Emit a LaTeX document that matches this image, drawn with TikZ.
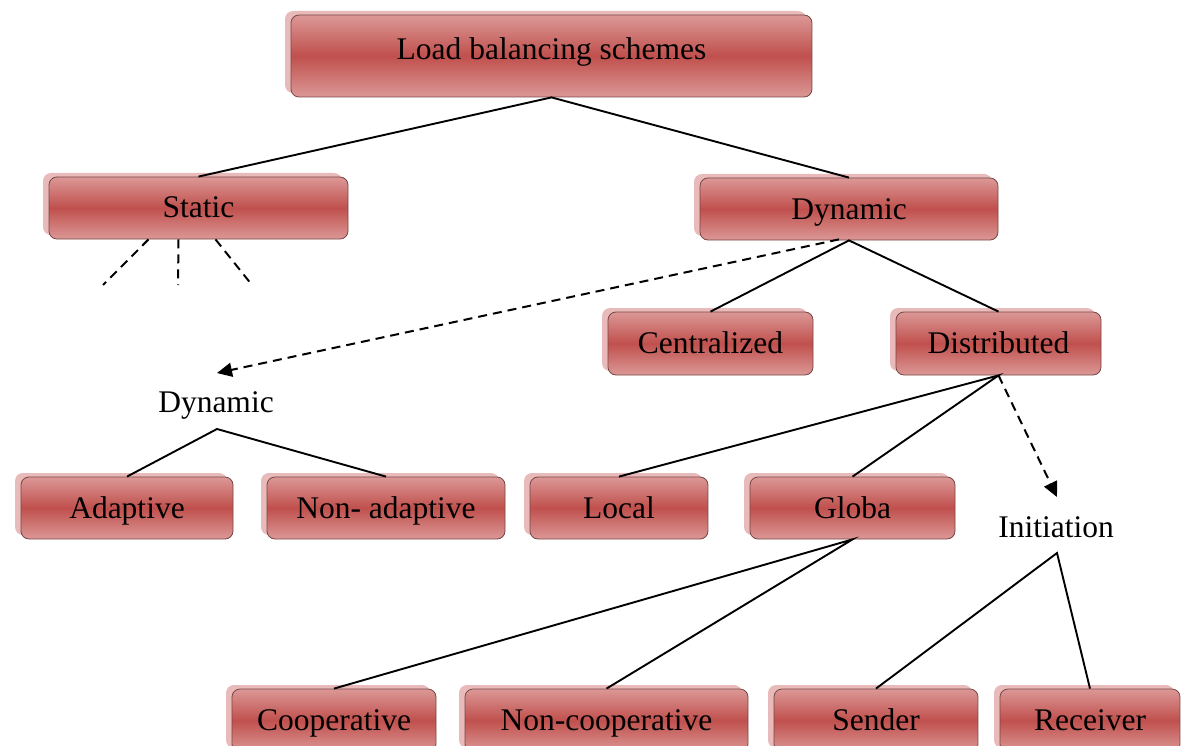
\documentclass[tikz,border=0pt]{standalone}
\usepackage{fontspec}
\setmainfont{Liberation Serif}
\usetikzlibrary{arrows.meta,shadows}

\definecolor{boxlight}{RGB}{219,152,150}
\definecolor{boxmid}{RGB}{192,80,77}
\definecolor{boxback}{RGB}{232,186,185}
\definecolor{boxedge}{RGB}{120,70,70}

\tikzset{
  schemebox/.style={rectangle, rounded corners=8pt, draw=boxedge, line width=0.8pt,
    top color=boxlight, bottom color=boxlight, middle color=boxmid,
    copy shadow={shadow xshift=-6pt, shadow yshift=4pt, fill=boxback, draw=none},
    minimum height=62pt, inner sep=0pt,
    font=\fontsize{31.5}{36}\selectfont, text height=24pt, text depth=4pt},
  plainlabel/.style={inner sep=0pt, font=\fontsize{31.5}{36}\selectfont},
  link/.style={line width=1.9pt, black},
  dashlink/.style={line width=2pt, black, dash pattern=on 9pt off 6pt},
  dasharrow/.style={dashlink, -{Triangle[length=15pt,width=14pt]}}
}

\begin{document}
\begin{tikzpicture}[x=1pt, y=-1pt]
  \useasboundingbox (0,0) rectangle (1183,746);

  % boxes of the hierarchy
  \node[schemebox, minimum width=521pt, minimum height=82pt, text height=18pt, text depth=10pt] (top) at (551.5,56) {Load balancing schemes};
  \node[schemebox, minimum width=299pt] (static)  at (198.5,208) {Static};
  \node[schemebox, minimum width=298pt] (dynamic) at (849,209) {Dynamic};
  \node[schemebox, minimum width=205pt, minimum height=63pt] (central) at (710.5,343.5) {Centralized};
  \node[schemebox, minimum width=205pt, minimum height=63pt] (distrib) at (998.5,343.5) {Distributed};
  \node[schemebox, minimum width=212pt] (adaptive) at (127,508) {Adaptive};
  \node[schemebox, minimum width=238pt] (nonadapt) at (386,508) {Non- adaptive};
  \node[schemebox, minimum width=178pt] (local) at (619,508) {Local};
  \node[schemebox, minimum width=205pt] (globa) at (852.5,508) {Globa};
  \node[schemebox, minimum width=204pt, minimum height=63pt] (coop) at (334,720.5) {Cooperative};
  \node[schemebox, minimum width=283pt, minimum height=63pt] (noncoop) at (606.5,720.5) {Non-cooperative};
  \node[schemebox, minimum width=204pt, minimum height=63pt] (sender) at (876,720.5) {Sender};
  \node[schemebox, minimum width=180pt, minimum height=63pt] (receiver) at (1090,720.5) {Receiver};

  % plain text labels
  \node[plainlabel, anchor=base] (dyntxt) at (216,412) {Dynamic};
  \node[plainlabel, anchor=base] (inittxt) at (1056,537) {Initiation};

  % free ends
  \coordinate (dyntip) at (217,373);
  \coordinate (dynapex) at (217,429);
  \coordinate (inittip) at (1057,497);
  \coordinate (initapex) at (1057,553);
  \coordinate (sendA) at (103,285);
  \coordinate (sendB) at (178,285);
  \coordinate (sendC) at (252,285);

  % connectors
  \draw[link] (static.north) -- (top.south) -- (dynamic.north);
  \draw[dashlink] ([xshift=-50pt]static.south) -- (sendA);
  \draw[dashlink] ([xshift=-20pt]static.south) -- (sendB);
  \draw[dashlink] ([xshift=17pt]static.south) -- (sendC);

  \draw[link] (central.north) -- (dynamic.south) -- (distrib.north);
  \draw[dasharrow] ([xshift=-10pt,yshift=1pt]dynamic.south) -- (dyntip);

  \draw[link] (adaptive.north) -- (dynapex) -- (nonadapt.north);

  \draw[link] (local.north) -- (distrib.south) -- (globa.north);
  \draw[dasharrow] (distrib.south) -- (inittip);

  \draw[link] (coop.north) -- (globa.south) -- (noncoop.north);
  \draw[link] (sender.north) -- (initapex) -- (receiver.north);
\end{tikzpicture}
\end{document}
